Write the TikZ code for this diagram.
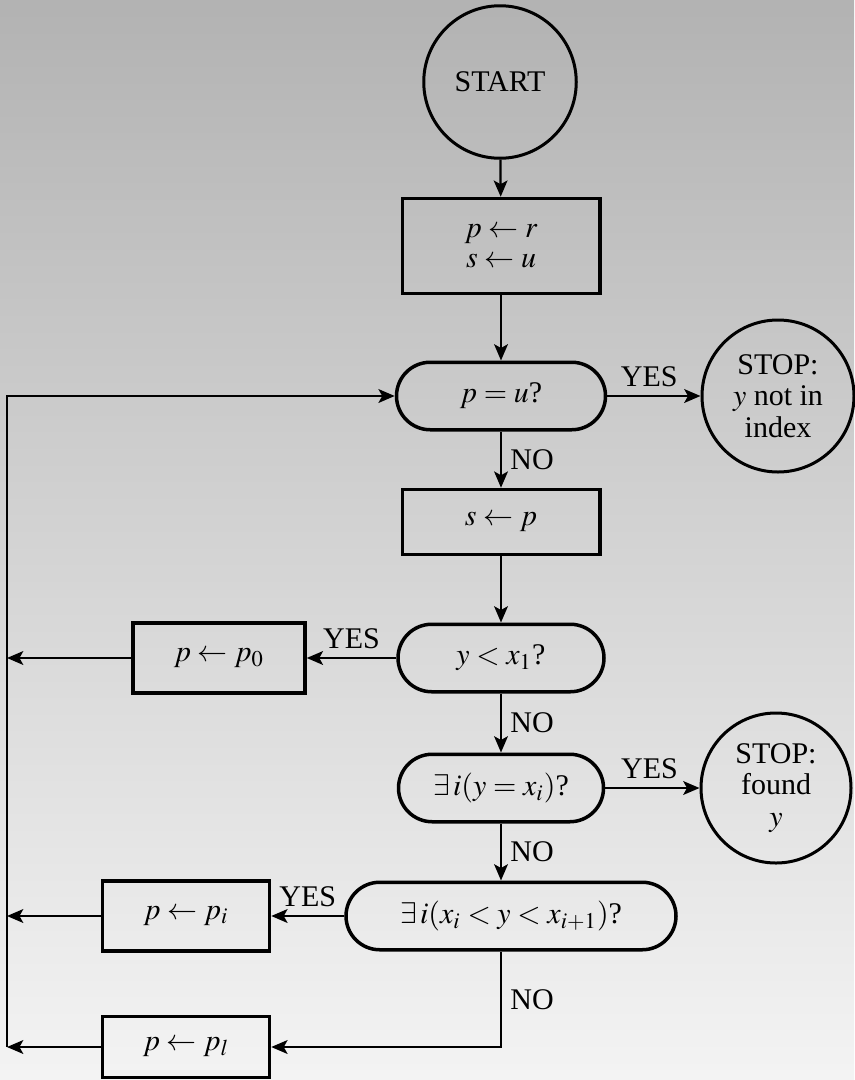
\documentclass[tikz,border=0pt]{standalone}
\usepackage{mathptmx}
\usepackage{fontspec}
\setmainfont{Liberation Serif}
\usepackage{tikz}
\usetikzlibrary{arrows}
\usetikzlibrary{arrows.meta}
\usetikzlibrary{positioning}

\definecolor{bgtop}{gray}{0.70}
\definecolor{bgbot}{gray}{0.955}

\tikzset{
    term/.style={circle, draw, line width=1.2pt, inner sep=0pt, align=center, minimum size=61pt},
    proc/.style={rectangle, draw, line width=1.4pt, align=center, minimum width=79pt},
    test/.style={rectangle, draw, line width=1.4pt, rounded corners=13.5pt, minimum height=27pt},
    flow/.style={line width=0.9pt, -{Stealth[length=6.5pt,width=5.5pt,inset=1.5pt]}},
}

\begin{document}
\begin{tikzpicture}[x=0.4pt,y=-0.4pt,font=\fontsize{12}{12.5}\selectfont]
    % Hintergrund mit Verlauf
    \shade[top color=bgtop, bottom color=bgbot] (0,0) rectangle (854,1080);
    \useasboundingbox (0,0) rectangle (854,1080);

    % Knoten der Hauptspalte
    \node[term] (start) at (500,82) {START};
    \node[proc, minimum height=38pt] (init) at (501,246) {$p\leftarrow r$\\[-0.5pt] $s\leftarrow u$};
    \node[test, minimum width=83.6pt] (tend) at (501,396) {$p=u$?};
    \node[proc, minimum height=26pt] (save) at (501,522) {$s\leftarrow p$};
    \node[test, minimum width=82.4pt] (tfirst) at (501,658) {$y<x_1$?};
    \node[test, minimum width=82pt] (tfound) at (501,788) {$\exists\, i(y=x_i)$?};
    \node[test, minimum width=132pt] (tbetw) at (511,916) {$\exists\, i(x_i<y<x_{i+1})$?};

    % Stopp-Kreise
    \node[term, minimum size=60.8pt] (stopa) at (778,396) {STOP:\\ $y$ not in\\ index};
    \node[term, minimum size=60pt] (stopb) at (776,788) {STOP:\\ found\\ $y$};

    % Zuweisungen links
    \node[proc, minimum width=68.8pt, minimum height=28pt] (pzero) at (219,658) {$p\leftarrow p_0$};
    \node[proc, minimum width=66.8pt, minimum height=28pt] (pi) at (186,916) {$p\leftarrow p_i$};
    \node[proc, minimum width=66.8pt, minimum height=24.4pt] (pl) at (186,1047) {$p\leftarrow p_l$};

    % Ruecklauf-Linie
    \coordinate (loop) at (7,1047);

    % Verbindungen
    \draw[flow] (start) -- (init);
    \draw[flow] (init) -- (tend);
    \draw[flow] (tend) -- node[right] {NO} (save);
    \draw[flow] (save) -- (tfirst);
    \draw[flow] (tfirst) -- node[right] {NO} (tfound);
    \draw[flow] (tfound.south) -- node[right] {NO} (tfound.south |- tbetw.north);
    \draw[flow] (tend) -- node[above, pos=0.45] {YES} (stopa);
    \draw[flow] (tfound) -- node[above, pos=0.47] {YES} (stopb);
    \draw[flow] (tfirst) -- node[above] {YES} (pzero);
    \draw[flow] (tbetw) -- node[above] {YES} (pi);
    \draw[flow] (tbetw.south -| tfound.south) |- node[right, pos=0.25] {NO} (pl);
    \draw[flow] (pzero) -- (pzero -| loop);
    \draw[flow] (pi) -- (pi -| loop);
    \draw[flow] (pl) -- (loop);
    \draw[flow] (loop) |- (tend);
\end{tikzpicture}
\end{document}
